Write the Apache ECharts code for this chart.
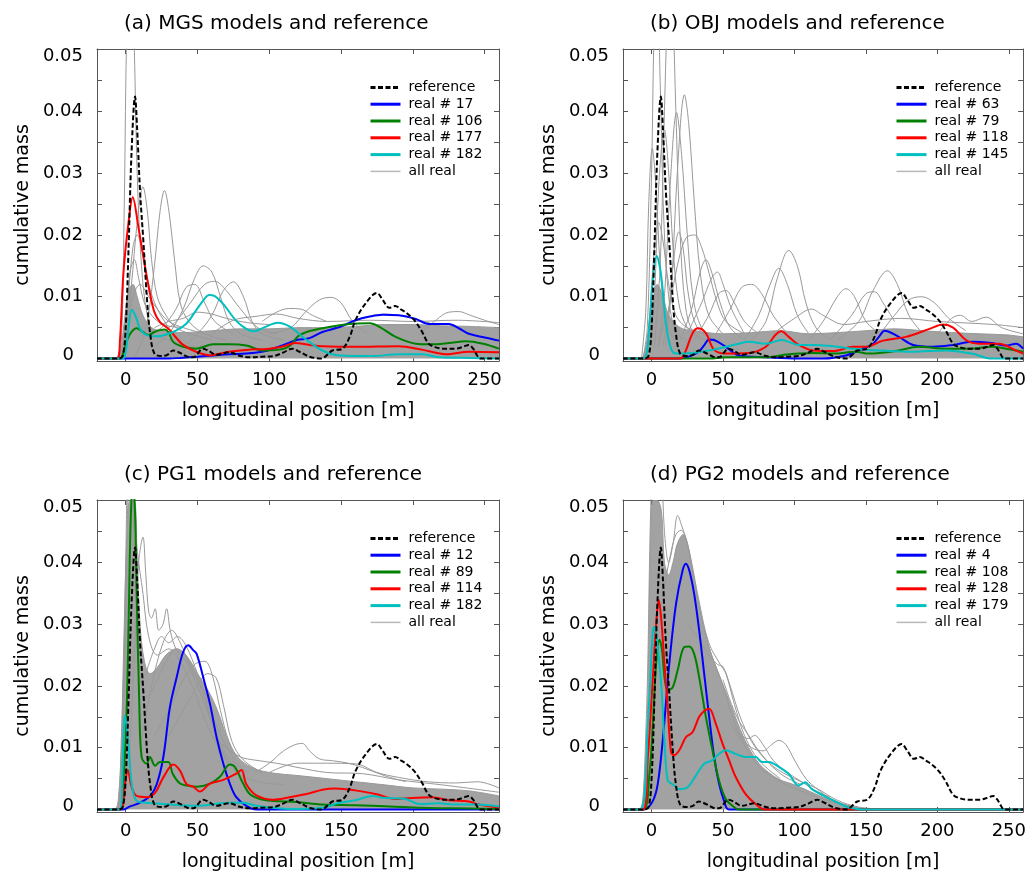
<!DOCTYPE html>
<html><head><meta charset="utf-8">
<script src="https://cdn.jsdelivr.net/npm/echarts@6/dist/echarts.min.js"></script>
<style>html,body{margin:0;padding:0;background:#fff}#c{width:1029px;height:875px}</style>
</head><body><div id="c"></div>
<script>
// ---------- data ----------
const xTicks = [0, 50, 100, 150, 200, 250];
const yLabels = [0, 0.01, 0.02, 0.03, 0.04, 0.05];
const yTicks = [0, 0.005, 0.01, 0.015, 0.02, 0.025, 0.03, 0.035, 0.04, 0.045, 0.05];
const panelTitles = ['(a) MGS models and reference', '(b) OBJ models and reference', '(c) PG1 models and reference', '(d) PG2 models and reference'];
const legendNames = [['real # 17','real # 106','real # 177','real # 182'],['real # 63','real # 79','real # 118','real # 145'],['real # 12','real # 89','real # 114','real # 182'],['real # 4','real # 108','real # 128','real # 179']];

const reference = [[-20,0],[-5,0],[-2,0.0005],[0,0.005],[2,0.018],[4,0.033],[6.5,0.0424],[8,0.037],[10,0.027],[12.3,0.019],[15,0.009],[17,0.0041],[20,0.0008],[25,0.0004],[29,0.0006],[33,0.0013],[38,0.0009],[43,0.0003],[47,0.0002],[54,0.0016],[58,0.0012],[63,0.0006],[72,0.001],[80,0.0004],[86,0.0002],[95,0.0003],[103,0.0004],[110,0.001],[116,0.0016],[121,0.0011],[128,0.0003],[136,0],[144,0.0013],[151,0.0016],[156,0.0035],[160,0.0062],[167,0.0089],[175,0.0106],[179,0.0095],[183.6,0.0082],[187.7,0.0085],[192,0.0079],[196,0.0073],[201,0.0062],[206,0.0045],[211,0.0024],[216,0.0018],[221,0.0016],[230,0.0016],[235,0.0019],[239,0.0022],[242,0.0016],[244,0.0008],[247,0],[260,0]];

// (a) MGS
const mgsReal17 = [[-20,0],[30,0],[38,0.0001],[50,0.0003],[61,0.0005],[72,0.0007],[84,0.0008],[95,0.0011],[103,0.0016],[110,0.0022],[119,0.003],[128,0.0033],[137,0.0043],[149,0.0051],[160,0.0062],[170,0.0068],[179,0.0071],[190,0.007],[202,0.0064],[211,0.0056],[218,0.0056],[225,0.0056],[232,0.0049],[239,0.004],[250,0.0034],[260,0.0029]];
const mgsReal106 = [[-20,0],[-4,0],[-1,0.0015],[1,0.003],[4,0.0043],[7.6,0.0049],[12,0.0043],[16,0.0038],[20,0.0043],[24,0.0046],[27.3,0.0047],[30,0.0042],[33,0.0027],[40,0.0019],[49,0.0016],[61,0.0023],[72,0.0023],[84,0.0021],[96,0.0013],[106,0.0014],[114,0.002],[120,0.0036],[126,0.0043],[137,0.0049],[156,0.0056],[170,0.0057],[177,0.0051],[188,0.0035],[202,0.0024],[212,0.0023],[225,0.0025],[237,0.0028],[249,0.0024],[260,0.0016]];
const mgsReal177 = [[-20,0],[-6,0],[-4,0.003],[-1.6,0.0138],[1.9,0.0219],[4.9,0.0261],[8.8,0.0213],[13.5,0.0148],[16.9,0.0105],[20,0.0075],[23.9,0.0059],[30.8,0.0046],[35,0.0034],[40,0.0022],[49,0.0011],[59,0.0005],[66,0.0008],[72,0.0011],[84,0.0014],[100,0.0016],[110,0.002],[118,0.0025],[128,0.0022],[137,0.002],[160,0.0019],[190,0.002],[207,0.0014],[223,0.0007],[239,0.0011],[260,0.001]];
const mgsReal182 = [[-20,0],[-3,0],[-0.5,0.0005],[2,0.005],[4.2,0.0079],[7,0.0068],[10,0.0048],[14.6,0.0038],[21.5,0.0036],[33,0.0043],[42,0.0056],[49,0.0078],[55,0.0097],[58,0.0103],[62,0.0101],[68,0.0088],[77,0.0061],[84,0.0048],[89,0.0044],[96,0.005],[106,0.0058],[114,0.0052],[126,0.003],[137,0.0013],[149,0.0005],[172,0.0004],[190,0.0007],[207,0.0007],[218,0.0002],[240,0.0001],[260,0]];
const mgsCore = [[-20,0],[-8,0],[-4,0.001],[-1,0.006],[2,0.011],[5,0.012],[8,0.01],[12,0.007],[18,0.005],[25,0.0045],[40,0.0042],[60,0.0045],[80,0.0048],[100,0.0048],[120,0.005],[140,0.005],[160,0.0052],[180,0.0055],[200,0.0055],[220,0.0053],[240,0.0052],[260,0.005]];
const mgsAllReal = [
 [[-6,0],[-3,0.003],[-1,0.025],[1,0.055],[4,0.065],[6,0.05],[8,0.03],[11,0.015],[15,0.007],[20,0.004],[30,0.003],[45,0.002],[60,0.002]],
 [[-3,0],[0,0.004],[4,0.012],[8,0.022],[12,0.0278],[15,0.024],[18,0.016],[22,0.01],[28,0.007],[35,0.005],[45,0.004],[60,0.003]],
 [[5,0],[10,0.002],[15,0.006],[20,0.015],[24,0.024],[27,0.0272],[30,0.024],[34,0.016],[38,0.009],[44,0.006],[55,0.004],[70,0.003]],
 [[20,0.002],[30,0.004],[40,0.008],[48,0.013],[54,0.015],[60,0.014],[66,0.01],[72,0.006],[80,0.004],[95,0.003]],
 [[40,0.002],[50,0.004],[60,0.007],[68,0.011],[75,0.0124],[82,0.01],[88,0.006],[95,0.004],[110,0.003]],
 [[15,0.004],[25,0.005],[35,0.008],[42,0.0115],[48,0.012],[55,0.009],[62,0.006],[75,0.004]],
 [[-4,0],[0,0.004],[5,0.01],[10,0.012],[16,0.01],[22,0.008],[30,0.006],[40,0.005],[55,0.004]],
 [[100,0.004],[115,0.005],[125,0.0075],[135,0.0095],[143,0.0099],[150,0.009],[158,0.006],[168,0.004]],
 [[95,0.006],[105,0.0075],[114,0.0081],[122,0.008],[130,0.007],[140,0.006]],
 [[205,0.004],[215,0.006],[225,0.0075],[232,0.0076],[240,0.007],[250,0.0062],[260,0.0055]],
 [[150,0.005],[165,0.0065],[180,0.0072],[190,0.007],[200,0.0065],[215,0.0055]],
 [[-3,0],[1,0.008],[5,0.018],[8,0.02],[12,0.017],[16,0.012],[22,0.008],[30,0.005]],
 [[25,0.004],[35,0.006],[45,0.009],[55,0.012],[62,0.0125],[70,0.011],[80,0.008],[92,0.005],[105,0.004]],
 [[60,0.004],[75,0.0062],[90,0.0068],[105,0.0072],[120,0.0065],[140,0.006],[170,0.0062],[200,0.006],[230,0.0062],[260,0.0058]],
 [[-3,0],[0,0.006],[3,0.014],[6,0.016],[9,0.013],[13,0.009],[18,0.007],[26,0.0055],[40,0.005]],
 [[20,0.005],[30,0.006],[40,0.0065],[50,0.0075],[60,0.0072],[70,0.0065],[85,0.0058],[100,0.0055]]
];

// (b) OBJ
const objReal63 = [[-20,0],[20,0],[27,0.0004],[33,0.0011],[37,0.0022],[40.3,0.0031],[43.8,0.003],[52,0.0019],[61,0.0005],[80,0.0002],[103,0],[120,0],[136,0.0005],[148,0.0016],[155,0.0024],[160,0.0038],[163,0.0045],[173,0.0035],[183,0.0022],[197,0.0019],[211,0.0022],[224,0.0027],[238,0.0025],[248,0.0021],[255,0.0024],[260,0.0016]];
const objReal79 = [[-20,0],[40,0],[52,0.0002],[80,0.0002],[93,0.0006],[103,0.0008],[113,0.0009],[127,0.0008],[143,0.0011],[152,0.0008],[171,0.0012],[187,0.0019],[206,0.0016],[222,0.0016],[238,0.0019],[248,0.0016],[260,0.0011]];
const objReal118 = [[-20,0],[18,0],[22,0.0003],[28.7,0.0041],[32.6,0.0049],[38,0.0041],[43.8,0.0014],[52,0.0008],[68,0.0009],[80,0.0019],[86.6,0.0038],[90.8,0.0044],[96,0.0035],[103,0.0022],[113,0.0013],[127,0.0012],[141,0.0019],[150,0.0019],[162,0.0029],[178,0.0035],[194.5,0.0048],[204,0.0055],[211,0.005],[220,0.003],[229,0.0024],[243,0.0024],[255,0.0013],[260,0.0008]];
const objReal145 = [[-20,0],[-6,0],[-1.5,0.0057],[0.8,0.0127],[3.6,0.0166],[6.6,0.0136],[10,0.0057],[13.6,0.0016],[17,0.0008],[28.7,0.0009],[42.6,0.0014],[52,0.0019],[61,0.0024],[68,0.0027],[80,0.0024],[91,0.003],[103,0.0022],[113,0.0022],[127,0.002],[141,0.0016],[160,0.0013],[183,0.0011],[206,0.0013],[224,0.0008],[238,0],[260,0]];
const objCore = [[-20,0],[-8,0],[-4,0.002],[0,0.008],[4,0.012],[8,0.01],[12,0.007],[20,0.005],[30,0.0045],[50,0.004],[70,0.0042],[90,0.0045],[110,0.004],[130,0.0042],[150,0.0045],[170,0.0048],[190,0.0045],[210,0.0042],[230,0.004],[250,0.0038],[260,0.0035]];
const objAllReal = [
 [[-6,0],[-3,0.005],[0,0.03],[2,0.055],[4,0.06],[6,0.045],[9,0.02],[13,0.008],[18,0.004],[25,0.003]],
 [[-7,0],[-4,0.008],[-2,0.025],[0.5,0.034],[3,0.028],[6,0.015],[10,0.006],[16,0.003]],
 [[2,0.002],[6,0.015],[9,0.04],[11,0.055],[13,0.06],[15,0.055],[17,0.04],[20,0.02],[24,0.008],[30,0.004],[40,0.003]],
 [[-2,0.001],[2,0.01],[5,0.028],[9,0.037],[12,0.03],[15,0.018],[19,0.009],[25,0.005],[35,0.003]],
 [[5,0.002],[9,0.01],[13,0.028],[17.5,0.0398],[21,0.033],[25,0.02],[29,0.01],[35,0.005],[45,0.003]],
 [[10,0.002],[14,0.012],[18,0.03],[23,0.0427],[26,0.038],[30,0.025],[34,0.014],[40,0.007],[50,0.004]],
 [[8,0.002],[12,0.008],[16,0.017],[19,0.0205],[22,0.018],[26,0.01],[32,0.005],[42,0.003]],
 [[5,0.003],[12,0.008],[18,0.015],[24,0.0195],[30,0.02],[35,0.018],[40,0.014],[46,0.009],[52,0.006],[65,0.004]],
 [[20,0.003],[28,0.008],[34,0.014],[38,0.016],[42,0.014],[48,0.009],[55,0.005],[65,0.003]],
 [[30,0.003],[40,0.007],[47,0.0105],[52,0.011],[58,0.009],[65,0.006],[75,0.004]],
 [[70,0.003],[80,0.006],[88,0.013],[96,0.0175],[102,0.015],[108,0.009],[115,0.005],[125,0.003]],
 [[65,0.003],[75,0.007],[83,0.012],[89,0.0146],[95,0.012],[102,0.007],[110,0.004]],
 [[130,0.003],[145,0.006],[155,0.011],[165,0.0142],[172,0.012],[180,0.007],[190,0.004]],
 [[110,0.003],[120,0.006],[130,0.01],[136,0.0113],[142,0.01],[150,0.006],[160,0.004]],
 [[160,0.004],[170,0.007],[180,0.0095],[189,0.01],[198,0.009],[208,0.0065],[220,0.0045]],
 [[125,0.003],[140,0.007],[150,0.0105],[156,0.0108],[162,0.009],[170,0.006]],
 [[200,0.004],[210,0.0065],[216,0.007],[224,0.006],[234,0.0067],[245,0.005],[260,0.004]],
 [[45,0.004],[55,0.008],[63,0.0115],[70,0.012],[77,0.0105],[85,0.007],[95,0.004]],
 [[25,0.004],[35,0.009],[42,0.013],[46,0.014],[50,0.012],[56,0.008],[65,0.004]],
 [[85,0.004],[100,0.0065],[112,0.008],[120,0.007],[135,0.0055],[150,0.006],[175,0.0065],[200,0.006],[240,0.0055],[260,0.005]],
 [[-4,0],[-1,0.008],[2,0.018],[5,0.022],[8,0.019],[12,0.012],[17,0.007],[25,0.005],[40,0.004]]
];

// (c) PG1
const pg1Real12 = [[-20,0],[-2,0],[3,0.0005],[10,0.0011],[17,0.0022],[21.6,0.0041],[26.2,0.0085],[30.8,0.0166],[35.5,0.0214],[40,0.0255],[43.6,0.0266],[47,0.0258],[49.4,0.0252],[54,0.0214],[58.7,0.0171],[63.3,0.0117],[68,0.0074],[72.5,0.0042],[77,0.002],[84,0.0006],[91,0],[260,0]];
const pg1Real89 = [[-20,0],[-4,0],[-1.5,0.005],[0.7,0.0166],[2,0.0301],[3.5,0.047],[5,0.053],[6.5,0.048],[7.6,0.0355],[9.5,0.0166],[11.1,0.0085],[14.6,0.0074],[16.9,0.0085],[20.4,0.0071],[23.9,0.0077],[29.7,0.0077],[32.7,0.0058],[37.8,0.0042],[42.4,0.0039],[49.4,0.0037],[58.7,0.0042],[65.6,0.0053],[72.5,0.0073],[76,0.0069],[81.8,0.0042],[86.4,0.0025],[93.4,0.0017],[102.7,0.0014],[119,0.0012],[137,0.0008],[160,0.0007],[184,0.0005],[207,0.0003],[230,0.0002],[260,0.0001]];
const pg1Real114 = [[-20,0],[-4,0],[-0.5,0.0042],[1.4,0.0064],[4.2,0.0036],[7.6,0.0022],[14.6,0.002],[20.4,0.0027],[26.2,0.0052],[33.2,0.0073],[37.8,0.0063],[42.4,0.0041],[47,0.0037],[51.7,0.0029],[58.7,0.0042],[68,0.0048],[77,0.0058],[80.6,0.0064],[84,0.0041],[91,0.0023],[103,0.0016],[114,0.002],[126,0.0025],[137,0.0032],[146,0.0034],[160,0.0031],[174,0.0025],[188,0.0017],[202,0.0019],[213.5,0.002],[225,0.0015],[239,0.0013],[246,0.0008],[260,0.0003]];
const pg1Real182 = [[-20,0],[-4,0],[-2,0.0085],[-0.5,0.0152],[1.9,0.0106],[4.2,0.0041],[7.6,0.0014],[14.6,0.0011],[26,0.0009],[49,0.0006],[72.5,0.0011],[82,0.0011],[91,0.0006],[114,0.0001],[137,0.0003],[149,0.0011],[160,0.0015],[172,0.0022],[179,0.0019],[195,0.0017],[204,0.0009],[218,0.001],[230,0.0008],[244,0.0008],[260,0.0005]];
const pg1Core = [[-20,0],[-8,0],[-5,0.002],[-3,0.012],[-1,0.03],[1,0.045],[3,0.05],[6,0.05],[8,0.04],[10,0.03],[13,0.024],[17,0.022],[22,0.023],[28,0.025],[35,0.026],[42,0.025],[50,0.022],[58,0.019],[64,0.016],[70,0.012],[76,0.009],[85,0.007],[100,0.006],[120,0.0055],[140,0.005],[160,0.0045],[180,0.004],[200,0.0035],[220,0.0033],[240,0.003],[260,0.0022]];
const pg1AllReal = [
 [[-5,0],[-2,0.015],[0,0.04],[2,0.058],[4,0.055],[7,0.035],[10,0.022],[14,0.018],[20,0.02],[28,0.024],[36,0.026],[44,0.024],[52,0.02],[60,0.014],[70,0.008],[85,0.005],[110,0.004]],
 [[2,0.005],[6,0.025],[9,0.04],[12,0.0441],[14,0.038],[16,0.032],[18,0.031],[20.5,0.0325],[23,0.029],[26,0.03],[28.5,0.0325],[31,0.029],[35,0.026],[42,0.024],[50,0.02],[60,0.014],[70,0.009],[85,0.006]],
 [[10,0.01],[18,0.02],[26,0.027],[32,0.029],[38,0.027],[45,0.023],[52,0.02],[58,0.016],[66,0.01],[75,0.007]],
 [[20,0.012],[30,0.016],[40,0.021],[48,0.0235],[55,0.024],[60,0.022],[66,0.016],[72,0.011],[80,0.008],[95,0.006]],
 [[30,0.012],[40,0.016],[50,0.02],[57,0.022],[63,0.0213],[68,0.017],[74,0.011],[82,0.008],[95,0.006]],
 [[90,0.006],[100,0.0075],[110,0.0095],[118,0.0105],[123,0.0107],[128,0.0095],[135,0.0082],[144,0.0079],[155,0.0075],[165,0.0068],[180,0.0055],[195,0.0045]],
 [[100,0.006],[120,0.0075],[140,0.0075],[160,0.0074],[175,0.006],[190,0.0052],[210,0.0045],[230,0.0043],[245,0.0045],[260,0.0035]],
 [[-4,0],[-1,0.02],[1.5,0.05],[3,0.056],[5,0.05],[8,0.042],[12,0.035],[16,0.028],[22,0.025],[30,0.026],[38,0.024],[48,0.019],[58,0.013],[70,0.008]],
 [[60,0.012],[70,0.01],[80,0.0085],[90,0.008],[105,0.0075],[120,0.0068],[140,0.006],[165,0.0058],[190,0.0048],[220,0.004],[260,0.0028]],
 [[14,0.022],[20,0.026],[25,0.028],[30,0.027],[36,0.028],[42,0.0265],[50,0.022],[58,0.017],[66,0.012],[76,0.008]]
];

// (d) PG2
const pg2Real4 = [[-20,0],[-5,0],[0.9,0.0014],[4.3,0.0041],[7.8,0.0112],[12.4,0.0236],[17.1,0.0333],[21.7,0.0387],[24,0.0398],[26.4,0.0387],[29.8,0.0349],[33.3,0.029],[36.8,0.022],[40.3,0.015],[43.8,0.0085],[47.2,0.0042],[50.7,0.0014],[54.2,0],[260,0]];
const pg2Real108 = [[-20,0],[-6,0],[-1.5,0.0058],[0.9,0.0139],[3.2,0.0236],[5.5,0.0275],[7.3,0.0258],[9,0.0214],[11.3,0.0193],[14.8,0.0198],[18.2,0.0225],[22.9,0.0263],[26.4,0.0264],[29.8,0.0252],[33.3,0.0214],[38,0.015],[42.6,0.0096],[47.2,0.0047],[51.9,0.0017],[56.6,0.0006],[61.2,0],[260,0]];
const pg2Real128 = [[-20,0],[-6,0],[-2.6,0.0085],[0.9,0.0214],[3.2,0.03],[5,0.0339],[6.7,0.031],[9,0.0236],[11.3,0.0166],[13.6,0.0093],[15.9,0.0088],[19.4,0.0096],[24,0.0117],[28.6,0.0125],[33.3,0.015],[37,0.016],[40.3,0.0163],[44.9,0.0139],[49.6,0.0107],[54.2,0.008],[58.8,0.0053],[65.8,0.0025],[72.8,0.0009],[79.7,0],[260,0]];
const pg2Real179 = [[-20,0],[-8,0],[-2.6,0.0139],[0.9,0.029],[2,0.0296],[4.3,0.0263],[6.7,0.0204],[9,0.0112],[11.3,0.0047],[14.8,0.0041],[19.4,0.0033],[25.2,0.0036],[31,0.0055],[36.8,0.0074],[42.6,0.008],[47.2,0.009],[51.9,0.0096],[58.8,0.009],[65.8,0.0085],[72.8,0.0085],[77.4,0.0077],[82,0.0077],[89,0.0069],[95.9,0.0058],[102.9,0.0039],[107.5,0.0044],[112.2,0.0033],[120,0.0023],[127,0.0015],[136,0.0005],[148,0],[260,0]];
const pg2Core = [[-20,0],[-9,0],[-6,0.002],[-3,0.015],[-1,0.04],[1,0.05],[4,0.05],[7,0.048],[9,0.04],[12,0.038],[15,0.04],[18,0.043],[22,0.0445],[26,0.042],[30,0.037],[34,0.032],[38,0.028],[42,0.025],[47,0.022],[52,0.019],[57,0.016],[62,0.013],[68,0.01],[75,0.0075],[82,0.006],[90,0.0048],[100,0.004],[110,0.003],[120,0.002],[130,0.0012],[140,0.0005],[150,0.0001],[160,0],[260,0]];
const pg2AllReal = [
 [[-6,0],[-3,0.02],[-1,0.045],[1,0.058],[4,0.062],[7,0.055],[9,0.045],[12,0.04],[15,0.043],[18.3,0.0476],[21,0.046],[25,0.043],[30,0.037],[36,0.03],[42,0.025],[50,0.02],[58,0.014],[66,0.01],[75,0.007],[90,0.0045],[110,0.0025],[130,0.001],[150,0]],
 [[0,0.01],[5,0.03],[9,0.036],[13,0.041],[17,0.0445],[20.6,0.0452],[24,0.044],[28,0.04],[33,0.034],[40,0.027],[48,0.0235],[52,0.022],[58,0.017],[65,0.012],[75,0.008],[90,0.005]],
 [[25,0.03],[32,0.028],[40,0.025],[46,0.0235],[50,0.0231],[55,0.02],[62,0.015],[70,0.011],[80,0.008],[92,0.0055],[105,0.004]],
 [[60,0.012],[70,0.01],[78,0.0095],[84,0.0105],[89,0.0112],[94,0.0105],[100,0.008],[108,0.005],[116,0.0033],[125,0.0018],[135,0.0008],[145,0.0002]],
 [[55,0.014],[62,0.012],[68,0.0115],[72,0.012],[78,0.0105],[85,0.008],[95,0.006],[105,0.0045],[115,0.003],[125,0.002]],
 [[50,0.021],[56,0.017],[62,0.014],[68,0.012],[75,0.0095],[85,0.007],[100,0.005],[115,0.0035],[130,0.0015],[145,0.0004],[165,0]]
];

// ---------- chart ----------
const panels = [
  {real: [mgsReal17, mgsReal106, mgsReal177, mgsReal182], core: mgsCore, all: mgsAllReal},
  {real: [objReal63, objReal79, objReal118, objReal145], core: objCore, all: objAllReal},
  {real: [pg1Real12, pg1Real89, pg1Real114, pg1Real182], core: pg1Core, all: pg1AllReal},
  {real: [pg2Real4, pg2Real108, pg2Real128, pg2Real179], core: pg2Core, all: pg2AllReal}
];
const colors = ['#0000ff', '#008000', '#ff0000', '#00bfbf'];
const grays = '#999999';
const FONT = 'DejaVu Sans';
const gridPos = [[97, 49], [623, 49], [97, 500], [623, 500]];
const W = 402, H = 312;

const grid = [], xAxis = [], yAxis = [], series = [], legend = [], title = [];
const frame = '#555555';

gridPos.forEach(([l, t], g) => {
  grid.push({left: l, top: t, width: W, height: H, containLabel: false});
  title.push({text: panelTitles[g], left: l + 22, top: t - 40,
    textStyle: {fontFamily: FONT, fontSize: 20, fontWeight: 'normal', color: '#000'}});
  const common = {type: 'value', min: -20, max: 260, gridIndex: g, splitLine: {show: false},
    axisLine: {show: true, onZero: false, lineStyle: {color: frame, width: 1}}};
  xAxis.push(Object.assign({}, common, {position: 'bottom',
    name: 'longitudinal position [m]', nameLocation: 'middle', nameGap: 41,
    nameTextStyle: {fontFamily: FONT, fontSize: 19, color: '#000'},
    axisTick: {show: true, inside: true, length: 5, customValues: xTicks, lineStyle: {color: frame}},
    axisLabel: {show: true, customValues: xTicks, margin: 10, fontFamily: FONT, fontSize: 18, color: '#000'}}));
  xAxis.push(Object.assign({}, common, {position: 'top',
    axisTick: {show: true, inside: true, length: 5, customValues: xTicks, lineStyle: {color: frame}},
    axisLabel: {show: false}}));
  const ycommon = {type: 'value', min: -0.0004, max: 0.0501, gridIndex: g, splitLine: {show: false},
    axisLine: {show: true, onZero: false, lineStyle: {color: frame, width: 1}}};
  yAxis.push(Object.assign({}, ycommon, {position: 'left',
    name: 'cumulative mass', nameLocation: 'middle', nameGap: 64, nameRotate: 90,
    nameTextStyle: {fontFamily: FONT, fontSize: 19, color: '#000'},
    axisTick: {show: true, inside: true, length: 5, customValues: yTicks, lineStyle: {color: frame}},
    axisLabel: {show: true, customValues: yLabels, margin: 14, fontFamily: FONT, fontSize: 18, color: '#000',
      formatter: v => Math.abs(v) < 1e-9 ? '{z|0}' : (Math.abs(v - 0.05) < 1e-9 ? '{t|0.05}' : v.toFixed(2)),
      rich: {z: {fontFamily: FONT, fontSize: 18, color: '#000', padding: [0, 9, 6, 0]},
             t: {fontFamily: FONT, fontSize: 18, color: '#000', padding: [13, 0, 0, 0]}}}}));
  yAxis.push(Object.assign({}, ycommon, {position: 'right',
    axisTick: {show: true, inside: true, length: 5, customValues: yTicks, lineStyle: {color: frame}},
    axisLabel: {show: false}}));

  const xi = g * 2, yi = g * 2;
  const p = panels[g];
  const base = {type: 'line', xAxisIndex: xi, yAxisIndex: yi, symbol: 'none', showSymbol: false,
    smooth: 0.35, silent: true, animation: false, clip: true};
  series.push(Object.assign({}, base, {name: 'core' + g, data: p.core,
    lineStyle: {color: grays, width: 1}, areaStyle: {color: '#a2a2a2', opacity: 1}, z: 1}));
  p.all.forEach(d => series.push(Object.assign({}, base, {name: 'all real', data: d,
    lineStyle: {color: grays, width: 1}, itemStyle: {color: '#b5b5b5'}, z: 2})));
  p.real.forEach((d, k) => series.push(Object.assign({}, base, {name: legendNames[g][k], data: d,
    lineStyle: {color: colors[k], width: 2}, itemStyle: {color: colors[k]}, z: 3 + k})));
  series.push(Object.assign({}, base, {name: 'reference', data: reference,
    lineStyle: {color: '#000', width: 2, type: [5, 2.5]}, itemStyle: {color: '#000'}, z: 10}));

  legend.push({
    left: l + 267, top: t + 25, orient: 'vertical', itemGap: 0, itemWidth: 30, itemHeight: 12,
    selectedMode: false,
    textStyle: {fontFamily: FONT, fontSize: 14, color: '#000', lineHeight: 16.8, padding: [0, 0, 0, 3]},
    itemStyle: {opacity: 0, borderWidth: 0},
    lineStyle: {width: 3},
    data: [{name: 'reference'}].concat(legendNames[g].map(n => ({name: n})))
      .concat([{name: 'all real', lineStyle: {width: 1.5, color: '#b8b8b8'}}])
  });
});

const chart = echarts.init(document.getElementById('c'), null, {renderer: 'canvas'});
chart.setOption({backgroundColor: '#fff', animation: false, textStyle: {fontFamily: FONT},
  title, grid, xAxis, yAxis, series, legend});
</script></body></html>
